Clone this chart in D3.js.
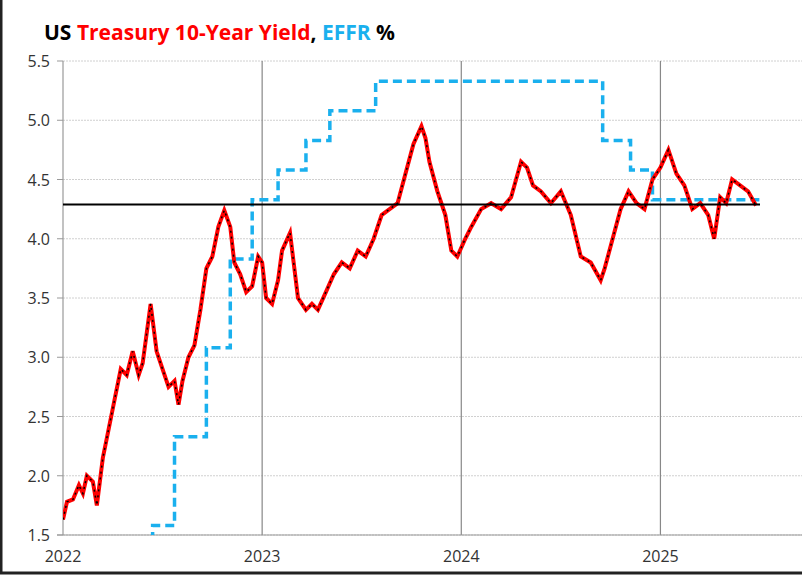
<!DOCTYPE html>
<html><head><meta charset="utf-8">
<script src="https://cdn.jsdelivr.net/npm/d3@7"></script>
<style>body{margin:0;background:#fff;font-family:"Open Sans",sans-serif}</style>
</head><body><div id="chart"></div>
<script>
// 10-year yield, time as year fraction
const yieldT = [2022.00,2022.02,2022.05,2022.08,2022.10,2022.12,2022.15,2022.17,2022.20,2022.23,2022.26,2022.29,2022.32,2022.35,2022.38,2022.40,2022.44,2022.47,2022.50,2022.53,2022.56,2022.58,2022.60,2022.63,2022.66,2022.69,2022.72,2022.75,2022.78,2022.81,2022.84,2022.86,2022.89,2022.92,2022.95,2022.98,2023.00,2023.02,2023.05,2023.08,2023.10,2023.14,2023.18,2023.22,2023.25,2023.28,2023.32,2023.36,2023.40,2023.44,2023.48,2023.52,2023.56,2023.60,2023.64,2023.68,2023.72,2023.76,2023.80,2023.82,2023.84,2023.88,2023.92,2023.95,2023.98,2024.02,2024.05,2024.10,2024.15,2024.20,2024.25,2024.30,2024.33,2024.36,2024.40,2024.45,2024.50,2024.55,2024.60,2024.65,2024.70,2024.72,2024.76,2024.80,2024.84,2024.88,2024.92,2024.96,2025.00,2025.04,2025.08,2025.12,2025.16,2025.20,2025.24,2025.27,2025.30,2025.33,2025.36,2025.40,2025.44,2025.48];
const yieldV = [1.63,1.78,1.80,1.92,1.85,2.00,1.95,1.75,2.15,2.40,2.65,2.90,2.85,3.05,2.85,2.95,3.45,3.05,2.90,2.75,2.80,2.60,2.80,3.00,3.10,3.40,3.75,3.85,4.10,4.24,4.10,3.80,3.70,3.55,3.60,3.85,3.80,3.50,3.45,3.65,3.90,4.05,3.50,3.40,3.45,3.40,3.55,3.70,3.80,3.75,3.90,3.85,4.00,4.20,4.25,4.30,4.55,4.80,4.95,4.85,4.65,4.40,4.20,3.90,3.85,4.00,4.10,4.25,4.30,4.25,4.35,4.65,4.60,4.45,4.40,4.30,4.40,4.20,3.85,3.80,3.65,3.75,4.00,4.25,4.40,4.30,4.25,4.50,4.60,4.75,4.55,4.45,4.25,4.30,4.20,4.00,4.35,4.30,4.50,4.45,4.40,4.28];
// EFFR step changes
const effrT = [2022.00,2022.21,2022.34,2022.45,2022.56,2022.72,2022.84,2022.95,2023.08,2023.22,2023.34,2023.57,2024.71,2024.85,2024.96,2025.50];
const effrV = [0.08,0.33,0.83,1.58,2.33,3.08,3.83,4.33,4.58,4.83,5.08,5.33,4.83,4.58,4.33,4.33];
const refLevel = 4.29;
const yTicks = [1.5,2.0,2.5,3.0,3.5,4.0,4.5,5.0,5.5];
const xTicks = [2022,2023,2024,2025];

const W = 802, H = 577;
const svg = d3.select('#chart').append('svg').attr('width', W).attr('height', H);
svg.append('rect').attr('x',1).attr('y',-10).attr('width',W+10).attr('height',H+6)
  .attr('fill','none').attr('stroke','#222').attr('stroke-width',3);

const x = d3.scaleLinear().domain([2022, 2025.5]).range([63, 760]);
const y = d3.scaleLinear().domain([1.5, 5.5]).range([535, 61]);

const title = svg.append('text').attr('x', 44).attr('y', 40).style('font-size','21px').style('font-weight','bold');
title.append('tspan').attr('fill','#000').text('US ');
title.append('tspan').attr('fill','#ff0000').text('Treasury 10-Year Yield');
title.append('tspan').attr('fill','#000').text(', ');
title.append('tspan').attr('fill','#1ab0ee').text('EFFR');
title.append('tspan').attr('fill','#000').text(' %');

svg.append('g').selectAll('line').data(yTicks).join('line')
  .attr('x1', x(2022)).attr('x2', 802).attr('y1', d => y(d)).attr('y2', d => y(d))
  .attr('stroke','#d0d0d0').attr('stroke-dasharray','2,1');
svg.append('g').selectAll('line').data(xTicks).join('line')
  .attr('x1', d => x(d)).attr('x2', d => x(d)).attr('y1', y(5.5)).attr('y2', y(1.5))
  .attr('stroke', d => d === 2022 ? '#999' : '#888').attr('stroke-width', 1.2);
svg.append('line').attr('x1', 57).attr('x2', 802).attr('y1', y(1.5)).attr('y2', y(1.5)).attr('stroke','#999');
svg.append('g').selectAll('line').data(yTicks).join('line')
  .attr('x1', 57).attr('x2', x(2022)).attr('y1', d => y(d)).attr('y2', d => y(d)).attr('stroke','#999');

svg.append('g').selectAll('text').data(yTicks).join('text')
  .attr('x', 50).attr('y', d => y(d) + 6).attr('text-anchor','end')
  .style('font-size','16px').attr('fill','#333').text(d => d.toFixed(1));
svg.append('g').selectAll('text').data(xTicks).join('text')
  .attr('x', d => x(d)).attr('y', 562).attr('text-anchor','middle')
  .style('font-size','16px').attr('fill','#333').text(d => d);

svg.append('defs').append('clipPath').attr('id','clip').append('rect')
  .attr('x', x(2022)).attr('y', y(5.5)).attr('width', x(2025.5) - x(2022)).attr('height', y(1.5) - y(5.5));
const plot = svg.append('g').attr('clip-path','url(#clip)');

const effr = effrT.map((t, i) => [t, effrV[i]]);
plot.append('path').datum(effr)
  .attr('d', d3.line().x(d => x(d[0])).y(d => y(d[1])).curve(d3.curveStepAfter))
  .attr('fill','none').attr('stroke','#1ab0ee').attr('stroke-width',3.5).attr('stroke-dasharray','9,5');

svg.append('line').attr('x1', x(2022)).attr('x2', x(2025.5)).attr('y1', y(refLevel)).attr('y2', y(refLevel))
  .attr('stroke','#000').attr('stroke-width',2);

const yl = yieldT.map((t, i) => [t, yieldV[i]]);
const line = d3.line().x(d => x(d[0])).y(d => y(d[1]));
plot.append('path').datum(yl).attr('d', line).attr('fill','none').attr('stroke','#ff0000').attr('stroke-width',4);
plot.append('path').datum(yl).attr('d', line).attr('fill','none').attr('stroke','#000').attr('stroke-width',1.5).attr('stroke-dasharray','2,4');
</script></body></html>
